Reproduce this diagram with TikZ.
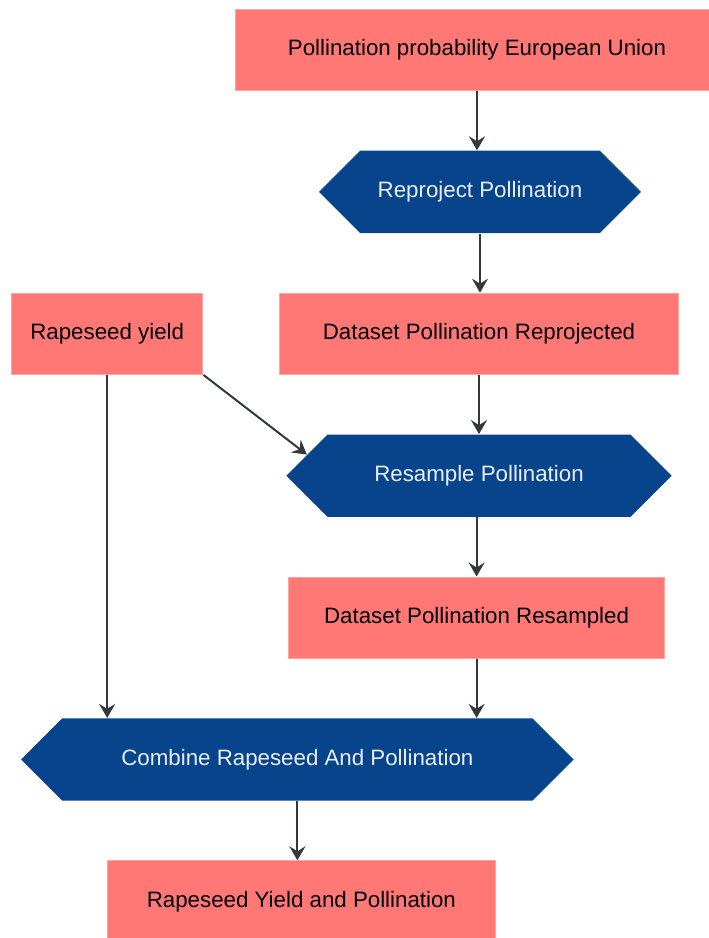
\documentclass[tikz,border=0pt]{standalone}
\usepackage{fontspec}
\setmainfont{Liberation Sans}
\usepackage{tikz}
\usetikzlibrary{arrows.meta,positioning,shapes.symbols}
\definecolor{datared}{RGB}{255,120,117}
\definecolor{dataline}{RGB}{255,165,160}
\definecolor{procblue}{RGB}{8,68,140}
\definecolor{proctext}{RGB}{232,238,246}
\definecolor{flowgray}{RGB}{52,56,60}
\tikzset{
  >={Stealth[length=7pt,width=8pt,inset=2.5pt]},
  data/.style={rectangle, fill=datared, draw=dataline, line width=0.5pt, minimum height=40.6pt, inner sep=0pt},
  proc/.style={signal, signal to=west and east, signal pointer angle=90, fill=procblue, text=proctext, minimum height=41.2pt, inner sep=0pt},
  flow/.style={->, draw=flowgray, line width=1pt}
}
\begin{document}
\begin{tikzpicture}[node distance=29.6pt, font=\fontsize{11.15}{13.4}\selectfont]
\useasboundingbox (0,0) rectangle (354pt,-469pt);

\node (euprob) [data, minimum width=242pt] at (238.5pt,-25pt) {Pollination probability European Union};
\node (reproj) [proc, minimum width=161pt, below=of euprob, xshift=1.5pt] {Reproject Pollination};
\node (dsreproj) [data, minimum width=199.7pt, below=of reproj, xshift=-0.5pt] {Dataset Pollination Reprojected};
\node (yield) [data, minimum width=95.7pt, left=37.7pt of dsreproj] {Rapeseed yield};
\node (resample) [proc, minimum width=192.7pt, below=of dsreproj] {Resample Pollination};
\node (dsres) [data, minimum width=187.7pt, below=of resample, xshift=-1.2pt] {Dataset Pollination Resampled};
\node (combine) [proc, minimum width=276.2pt, below=of dsres, xshift=-89.6pt] {Combine Rapeseed And Pollination};
\node (result) [data, minimum width=193.7pt, below=of combine, xshift=2pt] {Rapeseed Yield and Pollination};

\draw[flow] (euprob.south) -- (euprob.south |- reproj.north);
\draw[flow] (reproj.south) -- (reproj.south |- dsreproj.north);
\draw[flow] (dsreproj.south) -- (dsreproj.south |- resample.north);
\draw[flow] (yield.south east) -- (resample.173);
\draw[flow] (resample.south -| dsres.north) -- (dsres.north);
\draw[flow] (yield.south) -- (yield.south |- combine.north);
\draw[flow] (dsres.south) -- (dsres.south |- combine.north);
\draw[flow] (combine.south) -- (combine.south |- result.north);

\end{tikzpicture}
\end{document}
